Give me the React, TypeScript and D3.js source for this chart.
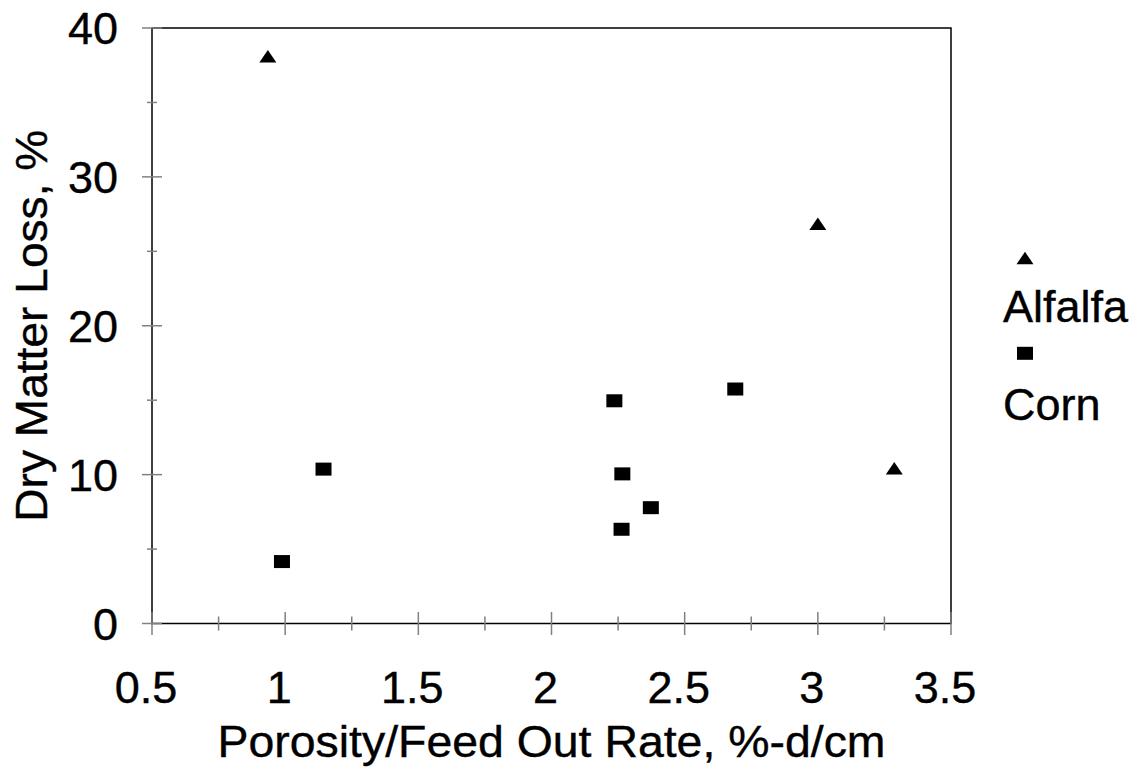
import React from "react";
import * as d3 from "d3";

const alfalfaX = [0.935, 3.0, 3.287];
const alfalfaY = [38.1, 26.85, 10.43];
const cornX = [0.988, 1.144, 2.236, 2.266, 2.263, 2.373, 2.69];
const cornY = [4.16, 10.37, 14.96, 10.05, 6.33, 7.78, 15.75];
const xTicks = [0.5, 1, 1.5, 2, 2.5, 3, 3.5];
const xMinor = [0.75, 1.25, 1.75, 2.25, 2.75, 3.25];
const yTicks = [0, 10, 20, 30, 40];
const yMinor = [5, 15, 25, 35];
const seriesNames = ["Alfalfa", "Corn"];
const xTitle = "Porosity/Feed Out Rate, %-d/cm";
const yTitle = "Dry Matter Loss, %";

const W = 1140;
const H = 774;
const L = 152, R = 951, T = 28, B = 623.5;
const FONT = "'Liberation Sans', Arial, sans-serif";
const TICK = "#808080";

export default function App() {
  const x = d3.scaleLinear().domain([0.5, 3.5]).range([L, R]);
  const y = d3.scaleLinear().domain([0, 40]).range([B, T]);
  const tri = (cx: number, cy: number) => {
    const w = 17, h = 12.5;
    return `M${cx - w / 2},${cy + h / 2}L${cx + w / 2},${cy + h / 2}L${cx},${cy - h / 2}Z`;
  };
  const sq = (cx: number, cy: number, k: string | number) => (
    <rect key={k} x={cx - 8} y={cy - 6.5} width={16} height={13} fill="#000" />
  );
  const txt = { fill: "#000", stroke: "#000", strokeWidth: 0.4 };
  return (
    <svg width={W} height={H} style={{ position: "absolute", left: 0, top: 0, background: "#fff" }} fontFamily={FONT}>
      <rect x={0} y={0} width={W} height={H} fill="#fff" />
      {/* frame */}
      <rect x={L} y={T} width={R - L} height={B - T} fill="none" stroke="#000" strokeWidth={1.5} />
      {/* y ticks */}
      {yTicks.map((t) => (
        <line key={"yt" + t} x1={L - 10} x2={L + 10} y1={y(t)} y2={y(t)} stroke={TICK} strokeWidth={1.5} />
      ))}
      {yMinor.map((t) => (
        <line key={"ym" + t} x1={L - 5} x2={L + 5} y1={y(t)} y2={y(t)} stroke={TICK} strokeWidth={1.5} />
      ))}
      {xTicks.map((t) => (
        <line key={"xt" + t} x1={x(t)} x2={x(t)} y1={B - 11.5} y2={B + 11.5} stroke={TICK} strokeWidth={1.5} />
      ))}
      {xMinor.map((t) => (
        <line key={"xm" + t} x1={x(t)} x2={x(t)} y1={B - 7} y2={B + 7} stroke={TICK} strokeWidth={1.5} />
      ))}
      {/* tick labels */}
      {yTicks.map((t) => (
        <text key={"yl" + t} x={118} y={y(t) + 16} textAnchor="end" fontSize={45} {...txt}>
          {t}
        </text>
      ))}
      {xTicks.map((t) => (
        <text key={"xl" + t} x={x(t) - 6} y={703} textAnchor="middle" fontSize={45} {...txt}>
          {t}
        </text>
      ))}
      {/* titles */}
      <text x={(L + R) / 2} y={757} textAnchor="middle" fontSize={45} textLength={668} lengthAdjust="spacingAndGlyphs" {...txt}>
        {xTitle}
      </text>
      <text transform={`translate(46.5,${(T + B) / 2}) rotate(-90)`} textAnchor="middle" fontSize={45} textLength={392} lengthAdjust="spacingAndGlyphs" {...txt}>
        {yTitle}
      </text>
      {/* data */}
      {alfalfaX.map((v, i) => (
        <path key={"a" + i} d={tri(x(v), y(alfalfaY[i]))} fill="#000" />
      ))}
      {cornX.map((v, i) => sq(x(v), y(cornY[i]), "c" + i))}
      {/* legend */}
      <path d={tri(1025, 258)} fill="#000" />
      <text x={1003} y={321.7} fontSize={45} {...txt}>{seriesNames[0]}</text>
      {sq(1025, 353.3, "lg")}
      <text x={1003} y={420} fontSize={45} {...txt}>{seriesNames[1]}</text>
    </svg>
  );
}
